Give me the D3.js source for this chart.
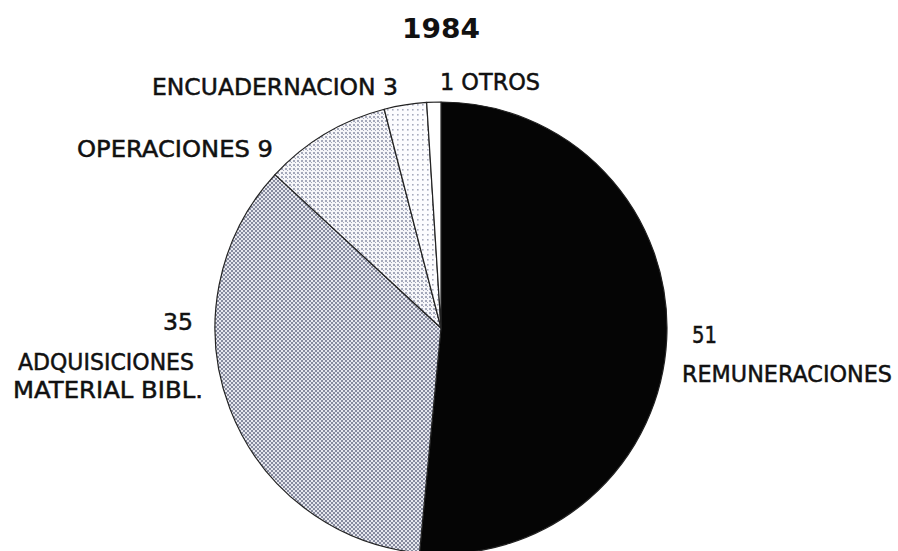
<!DOCTYPE html>
<html>
<head>
<meta charset="utf-8">
<script src="https://cdn.jsdelivr.net/npm/d3@7"></script>
<style>
  html,body{margin:0;padding:0;background:#fff;}
  svg{display:block;}
  text{font-family:"DejaVu Sans",sans-serif;fill:#111;}
</style>
</head>
<body>
<div id="chart"></div>
<script>
// values (clockwise from 12 o'clock)
const categories = ['REMUNERACIONES','ADQUISICIONES MATERIAL BIBL.','OPERACIONES','ENCUADERNACION','OTROS'];
const values = [51,35,9,3,1];
const title = '1984';

const W=898,H=551;
const cx=441,cy=328,r=226;

const svg = d3.select('#chart').append('svg').attr('width',W).attr('height',H);
const defs = svg.append('defs');

// halftone style fills, like the original print
function dotPattern(id,size,dots,col,bg){
  const p = defs.append('pattern').attr('id',id).attr('patternUnits','userSpaceOnUse')
    .attr('width',size).attr('height',size);
  p.append('rect').attr('width',size).attr('height',size).attr('fill',bg);
  dots.forEach(d=>p.append('rect').attr('x',d[0]).attr('y',d[1]).attr('width',d[2]).attr('height',d[2]).attr('fill',col));
}
dotPattern('pAdq',4,[[0,0,2],[2,2,2]],'#868a9e','#e6e7ee');
dotPattern('pOpe',4,[[0,0,2],[2,2,1]],'#a4a8ba','#f6f6f9');
dotPattern('pEnc',5,[[1,1,1.6]],'#a8acbe','#fcfcfe');

const fills = ['#050505','url(#pAdq)','url(#pOpe)','url(#pEnc)','#ffffff'];

const pie = d3.pie().sort(null).value(d=>d);
const arc = d3.arc().innerRadius(0).outerRadius(r);

const g = svg.append('g').attr('transform',`translate(${cx},${cy})`);
g.selectAll('path').data(pie(values)).enter().append('path')
  .attr('d',arc)
  .attr('fill',(d,i)=>fills[i])
  .attr('stroke','#222')
  .attr('stroke-width',1.2)
  .attr('stroke-linejoin','round');

// labels, offsets relative to pie centre
const labelLines = [
  {t:'51',dx:251,dy:15,len:25,anchor:'start'},
  {t:'REMUNERACIONES',dx:241,dy:54,len:210,anchor:'start'},
  {t:'35',dx:-248,dy:2,len:30,anchor:'end'},
  {t:'ADQUISICIONES',dx:-247,dy:42,len:176,anchor:'end'},
  {t:'MATERIAL BIBL.',dx:-238,dy:70,len:190,anchor:'end'},
  {t:'OPERACIONES 9',dx:-364,dy:-171,len:196,anchor:'start'},
  {t:'ENCUADERNACION 3',dx:-289,dy:-233,len:246,anchor:'start'},
  {t:'1 OTROS',dx:-1,dy:-238,len:100,anchor:'start'}
];
g.selectAll('text.lbl').data(labelLines).enter().append('text')
  .attr('class','lbl')
  .attr('x',d=>d.dx).attr('y',d=>d.dy)
  .attr('text-anchor',d=>d.anchor)
  .attr('font-size',23)
  .attr('textLength',d=>d.len)
  .attr('lengthAdjust','spacingAndGlyphs')
  .attr('stroke','#111').attr('stroke-width',0.5)
  .text(d=>d.t);

svg.append('text').attr('x',cx).attr('y',38).attr('text-anchor','middle')
  .attr('font-size',27).attr('font-weight','bold')
  .attr('textLength',78).attr('lengthAdjust','spacingAndGlyphs')
  .text(title);
</script>
</body>
</html>
